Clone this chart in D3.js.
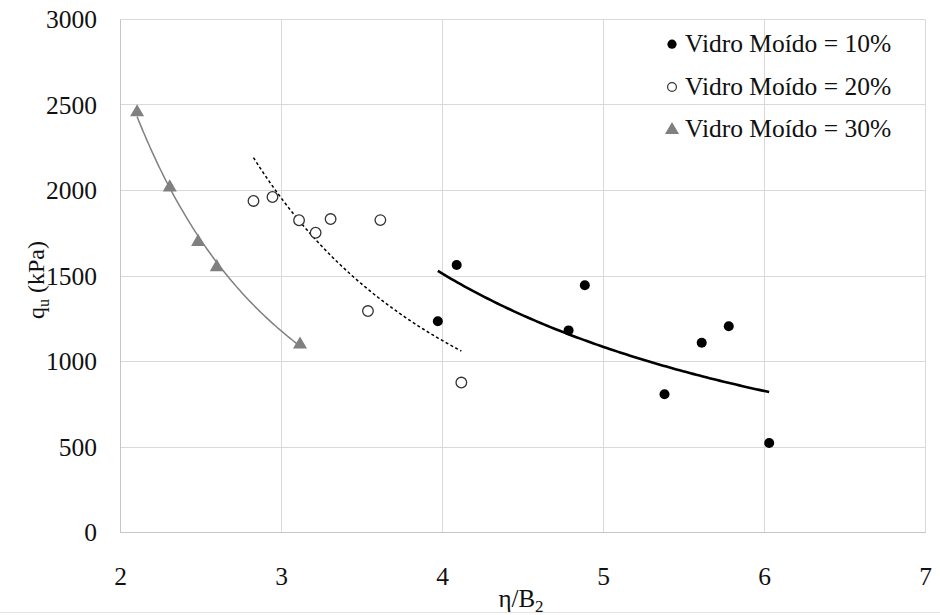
<!DOCTYPE html>
<html><head><meta charset="utf-8">
<script src="https://cdn.jsdelivr.net/npm/d3@7"></script>
<style>
html,body{margin:0;padding:0;background:#fff;}
svg{display:block;}
.serif{font-family:'Liberation Serif','Times New Roman',serif;}
</style></head>
<body>
<svg id="chart" width="940" height="615"></svg>
<script>
// ---- data ----
const xTicks = [2, 3, 4, 5, 6, 7];
const yTicks = [0, 500, 1000, 1500, 2000, 2500, 3000];

const seriesNames = ["Vidro Moído = 10%", "Vidro Moído = 20%", "Vidro Moído = 30%"];

const x10 = [3.971, 4.088, 4.783, 4.884, 5.379, 5.610, 5.778, 6.029];
const y10 = [1235, 1564, 1182, 1446, 808, 1110, 1206, 523];

const x20 = [2.826, 2.944, 3.109, 3.305, 3.212, 3.614, 3.537, 4.117];
const y20 = [1939, 1962, 1826, 1833, 1753, 1827, 1295, 877];

const x30 = [2.103, 2.306, 2.482, 2.598, 3.115];
const y30 = [2463, 2024, 1705, 1558, 1105];

// ---- layout ----
const svg = d3.select("#chart");
const L = 120.5, R = 925.5, T = 19.5, B = 532.5;
const x = d3.scaleLinear().domain([2, 7]).range([L, R]);
const y = d3.scaleLinear().domain([0, 3000]).range([B, T]);
const px = v => Math.round(v - 0.5) + 0.5;

const grid = "#d9d9d9";
svg.append("g").selectAll("line").data(xTicks).join("line")
  .attr("x1", d => px(x(d))).attr("x2", d => px(x(d))).attr("y1", T).attr("y2", B)
  .attr("stroke", grid).attr("stroke-width", 1);
svg.append("g").selectAll("line").data(yTicks).join("line")
  .attr("x1", L).attr("x2", R).attr("y1", d => px(y(d))).attr("y2", d => px(y(d)))
  .attr("stroke", grid).attr("stroke-width", 1);
svg.append("line").attr("x1", L).attr("x2", L).attr("y1", T).attr("y2", B)
  .attr("stroke", "#c6c6c6").attr("stroke-width", 1);
svg.append("line").attr("x1", L).attr("x2", R).attr("y1", B).attr("y2", B)
  .attr("stroke", "#c6c6c6").attr("stroke-width", 1);

// tick labels
const ink = "#111";
svg.append("g").selectAll("text").data(yTicks).join("text")
  .attr("class", "serif")
  .attr("x", 97).attr("y", d => y(d) + 8.8)
  .attr("text-anchor", "end").style("font-size", "25.5px")
  .attr("fill", ink).text(d => d);
svg.append("g").selectAll("text").data(xTicks).join("text")
  .attr("class", "serif")
  .attr("x", d => x(d)).attr("y", 585)
  .attr("text-anchor", "middle").style("font-size", "25.5px")
  .attr("fill", ink).text(d => d);

// axis titles
const xt = svg.append("text").attr("class", "serif").attr("x", 521).attr("y", 606.5)
  .attr("text-anchor", "middle").style("font-size", "25px").attr("fill", ink);
xt.append("tspan").text("η/B");
xt.append("tspan").style("font-size", "17px").attr("dy", 5).text("2");

const yt = svg.append("text").attr("class", "serif").attr("transform", "translate(44,280) rotate(-90)")
  .attr("text-anchor", "middle").style("font-size", "24px").attr("fill", ink);
yt.append("tspan").text("q");
yt.append("tspan").style("font-size", "16px").attr("dy", 5).text("u");
yt.append("tspan").attr("dy", -5).text(" (kPa)");

// ---- power-law trendlines (least squares on ln x, ln y) ----
function powerFit(xs, ys) {
  const lx = xs.map(Math.log), ly = ys.map(Math.log);
  const mx = d3.mean(lx), my = d3.mean(ly);
  const b = d3.sum(lx.map((v, i) => (v - mx) * (ly[i] - my))) / d3.sum(lx.map(v => (v - mx) ** 2));
  const a = Math.exp(my - b * mx);
  const [x0, x1] = d3.extent(xs);
  return d3.range(0, 101).map(i => { const xv = x0 + (x1 - x0) * i / 100; return [xv, a * Math.pow(xv, b)]; });
}
const line = d3.line().x(d => x(d[0])).y(d => y(d[1]));

svg.append("path").attr("d", line(powerFit(x30, y30))).attr("fill", "none")
  .attr("stroke", "#808080").attr("stroke-width", 1.5);
svg.append("path").attr("d", line(powerFit(x20, y20))).attr("fill", "none")
  .attr("stroke", "#000").attr("stroke-width", 1.5).attr("stroke-dasharray", "3,2.5");
svg.append("path").attr("d", line(powerFit(x10, y10))).attr("fill", "none")
  .attr("stroke", "#000").attr("stroke-width", 2.6);

// ---- markers ----
const tri = d3.symbol().type(d3.symbolTriangle).size(85);
function drawTri(g, cx, cy) {
  g.append("path").attr("d", tri()).attr("transform", `translate(${cx},${cy})`).attr("fill", "#808080");
}
const pts10 = x10.map((v, i) => [v, y10[i]]);
const pts20 = x20.map((v, i) => [v, y20[i]]);
const pts30 = x30.map((v, i) => [v, y30[i]]);

svg.append("g").selectAll("circle").data(pts20).join("circle")
  .attr("cx", d => x(d[0])).attr("cy", d => y(d[1])).attr("r", 5.3)
  .attr("fill", "#fff").attr("stroke", "#333").attr("stroke-width", 1.3);
svg.append("g").selectAll("circle").data(pts10).join("circle")
  .attr("cx", d => x(d[0])).attr("cy", d => y(d[1])).attr("r", 5)
  .attr("fill", "#000");
const gt = svg.append("g");
pts30.forEach(d => drawTri(gt, x(d[0]), y(d[1]) + 1));

// ---- legend ----
const legBase = [51.7, 94.5, 137];
const lg = svg.append("g");
lg.append("circle").attr("cx", 672).attr("cy", legBase[0] - 7.5).attr("r", 4.6).attr("fill", "#000");
lg.append("circle").attr("cx", 672).attr("cy", legBase[1] - 7.5).attr("r", 4.4).attr("fill", "#fff")
  .attr("stroke", "#333").attr("stroke-width", 1.2);
drawTri(lg, 672, legBase[2] - 7);
lg.selectAll("text").data(seriesNames).join("text")
  .attr("class", "serif")
  .attr("x", 685).attr("y", (d, i) => legBase[i])
  .style("font-size", "25.5px").attr("fill", ink)
  .text(d => d);

// faint sheet line at the bottom
svg.append("line").attr("x1", 0).attr("x2", 940).attr("y1", 612.5).attr("y2", 612.5)
  .attr("stroke", "#e3e3e3").attr("stroke-width", 1);
</script>
</body></html>
